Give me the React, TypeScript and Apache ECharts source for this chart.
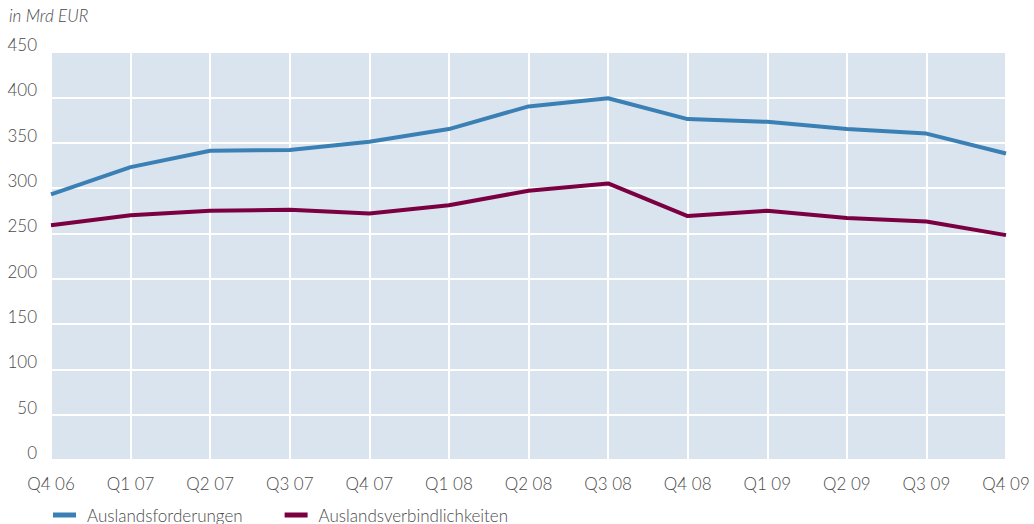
import React, { useEffect, useRef } from "react";
import * as echarts from "echarts";

const categories = ["Q4 06", "Q1 07", "Q2 07", "Q3 07", "Q4 07", "Q1 08", "Q2 08", "Q3 08", "Q4 08", "Q1 09", "Q2 09", "Q3 09", "Q4 09"];
const forderungen = [293, 323, 341, 342, 351, 365, 390, 399, 376, 373, 365, 360, 338];
const verbindlichkeiten = [259, 270, 275, 276, 272, 281, 297, 305, 269, 275, 267, 263, 248];
const seriesNames = ["Auslandsforderungen", "Auslandsverbindlichkeiten"];
const unitLabel = "in Mrd EUR";

const FONT = "Lato, 'Open Sans', sans-serif";
const TEXT = "#4a4a4a";
const W = 300;

export default function App() {
  const ref = useRef<HTMLDivElement>(null);
  useEffect(() => {
    if (!ref.current) return;
    const chart = echarts.init(ref.current, undefined, { renderer: "svg" });
    chart.setOption({
      animation: false,
      textStyle: { fontFamily: FONT },
      graphic: [
        {
          type: "text",
          left: 9,
          top: 7,
          style: { text: unitLabel, fontFamily: FONT, fontSize: 17, fontWeight: W, fontStyle: "italic", fill: TEXT },
        },
      ],
      grid: {
        left: 51,
        right: 28,
        top: 52,
        bottom: 64,
        show: true,
        backgroundColor: "#dae4ef",
        borderWidth: 0,
      },
      legend: {
        left: 48,
        top: 501,
        icon: "rect",
        itemWidth: 23,
        itemHeight: 5,
        itemGap: 42,
        textStyle: { fontFamily: FONT, fontSize: 17, fontWeight: W, color: TEXT, padding: [0, 0, 0, 6], lineHeight: 18 },
        data: seriesNames,
      },
      xAxis: {
        type: "category",
        data: categories,
        boundaryGap: false,
        axisLine: { show: false },
        axisTick: { show: false },
        axisLabel: { fontFamily: FONT, fontSize: 17, fontWeight: W, color: TEXT, margin: 15, interval: 0 },
        splitLine: { show: true, lineStyle: { color: "#ffffff", width: 2 } },
      },
      yAxis: {
        type: "value",
        min: 0,
        max: 450,
        interval: 50,
        axisLine: { show: false },
        axisTick: { show: false },
        axisLabel: {
          fontFamily: FONT,
          fontSize: 17,
          fontWeight: W,
          color: TEXT,
          margin: 14,
          verticalAlign: "bottom",
          lineHeight: 15,
        },
        splitLine: { show: true, lineStyle: { color: "#ffffff", width: 2 } },
      },
      series: [
        {
          name: seriesNames[0],
          type: "line",
          data: forderungen,
          symbol: "none",
          lineStyle: { color: "#3a80b5", width: 4 },
          itemStyle: { color: "#3a80b5" },
        },
        {
          name: seriesNames[1],
          type: "line",
          data: verbindlichkeiten,
          symbol: "none",
          lineStyle: { color: "#7b0041", width: 4 },
          itemStyle: { color: "#7b0041" },
        },
      ],
    });
    return () => chart.dispose();
  }, []);
  return <div ref={ref} style={{ width: 1034, height: 524, position: "absolute", left: 0, top: 0 }} />;
}
